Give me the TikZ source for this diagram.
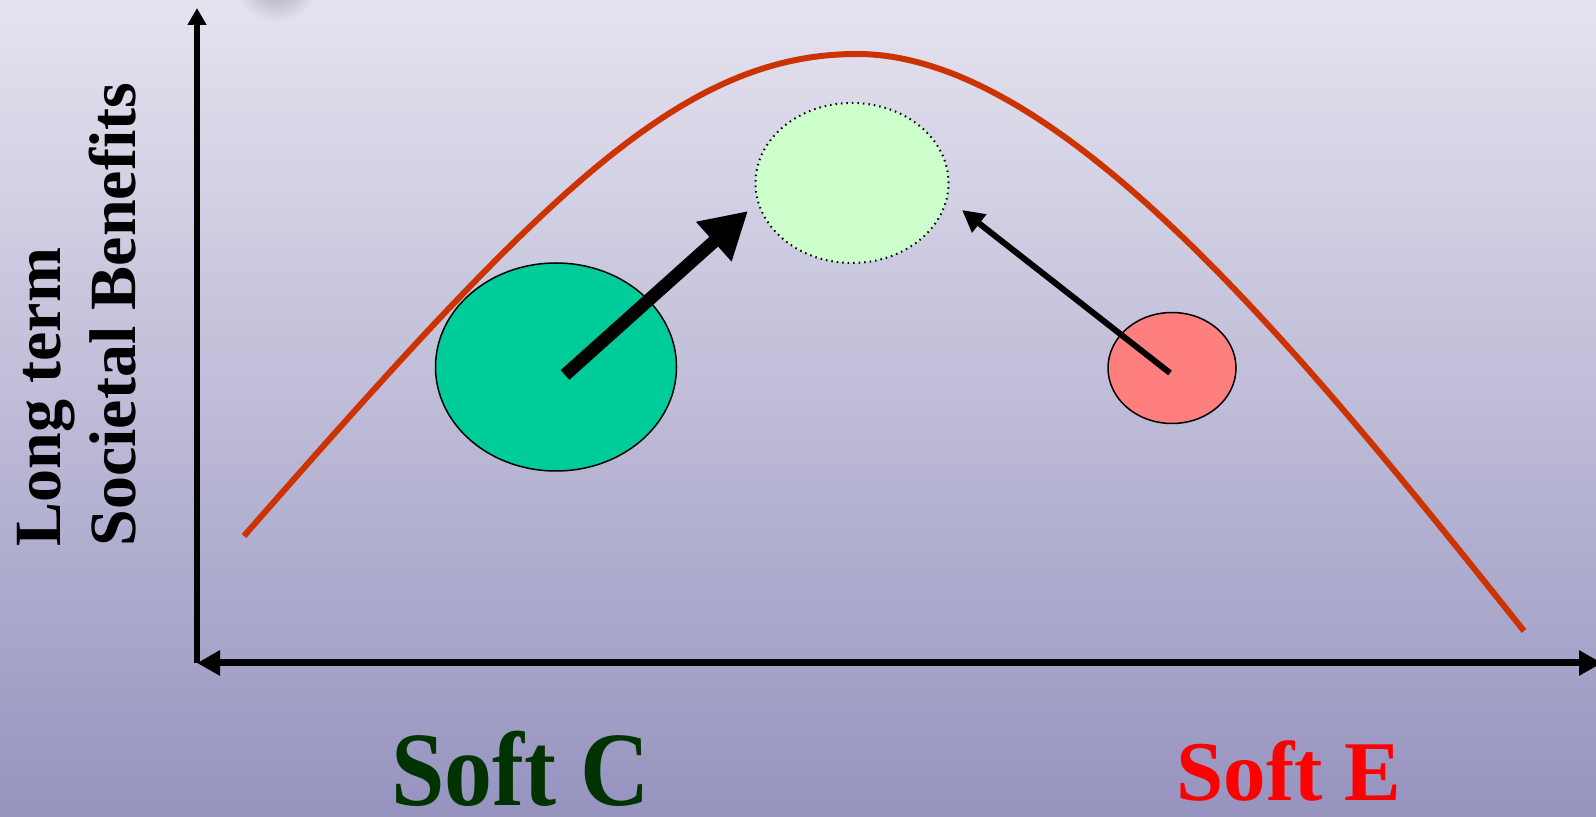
\documentclass[tikz,border=0pt]{standalone}
\usepackage{fontspec}
\setmainfont{Liberation Serif}
\usetikzlibrary{arrows.meta,calc,positioning,shapes.geometric}
\definecolor{BgTop}{HTML}{E5E3EF}
\definecolor{BgMid}{HTML}{BEBCD6}
\definecolor{BgLow}{HTML}{9694BF}
\definecolor{Smudge}{HTML}{A4A2B0}
\definecolor{Rust}{HTML}{CC3300}
\definecolor{Jade}{HTML}{00CC99}
\definecolor{Mint}{HTML}{CCFFCC}
\definecolor{Salmon}{HTML}{FF7F7F}
\definecolor{Moss}{HTML}{003300}
\definecolor{Signal}{HTML}{FF0000}
\tikzset{
  blob/.style={
    ellipse, draw=black, line width=0.75pt, inner sep=0pt
  },
  axis/.style={line width=3pt, draw=black},
  trend/.style={line width=3pt, draw=Rust},
  push/.style={line width=6.5pt, draw=black, -{Triangle[length=23pt,width=25pt]}},
  nudge/.style={line width=3pt, draw=black, -{Triangle[length=11pt,width=11pt]}},
  camp/.style={anchor=base west, inner sep=0pt}
}

\begin{document}
\begin{tikzpicture}[x=0.5pt,y=-0.5pt]
    \useasboundingbox (0,0) rectangle (1596,817);
    \shade[top color=BgTop, middle color=BgMid, bottom color=BgLow] (0,0) rectangle (1596,817);
    \shade[inner color=Smudge, outer color=BgTop] (276,-20) circle (44);
    % axes
    \coordinate (origin) at (197,663);
    \coordinate (ytop) at (197,8);
    \coordinate (xend) at (1602,663);
    \draw[axis,-{Triangle[length=8.5pt,width=9pt]}] (origin) -- (ytop);
    \draw[axis,line width=3.5pt,{Triangle[length=11.5pt,width=12pt]}-{Triangle[length=11.5pt,width=12pt]}] (origin) -- (xend);
    % benefit curve
    \coordinate (c0) at (244,536);
    \coordinate (peak) at (857,54);
    \coordinate (c1) at (1524,631);
    \draw[trend] (c0) .. controls (542,196) and (680,54) .. (peak)
      .. controls (1060,54) and (1300,350) .. (c1);
    % states
    \node[blob,fill=Jade,minimum width=120.5pt,minimum height=104pt] (cstate) at (556,367) {};
    \node[blob,fill=Mint,dotted,line width=1pt,minimum width=96.5pt,minimum height=80pt] (ideal) at (852,183) {};
    \node[blob,fill=Salmon,minimum width=64pt,minimum height=55.5pt] (estate) at (1172,368) {};
    \coordinate (ctip) at (748,211);
    \coordinate (etip) at (962,210);
    \draw[push] ([shift={(9,8)}]cstate.center) -- (ctip);
    \draw[nudge] ([shift={(-2,5)}]estate.center) -- (etip);
    % labels
    \node[rotate=90,anchor=west,align=left,inner sep=0pt,
      font=\bfseries\fontsize{33pt}{37.5pt}\selectfont] (ylabel) at (77,547)
      {Long term\\Societal Benefits};
    \node[camp,text=Moss,font=\bfseries\fontsize{48pt}{48pt}\selectfont] (softc) at (391,805)
      {\scalebox{1}[1.1]{Soft C}};
    \node[camp,text=Signal,font=\bfseries\fontsize{42.5pt}{42.5pt}\selectfont] (softe) at (1176,800)
      {Soft E};
\end{tikzpicture}
\end{document}
